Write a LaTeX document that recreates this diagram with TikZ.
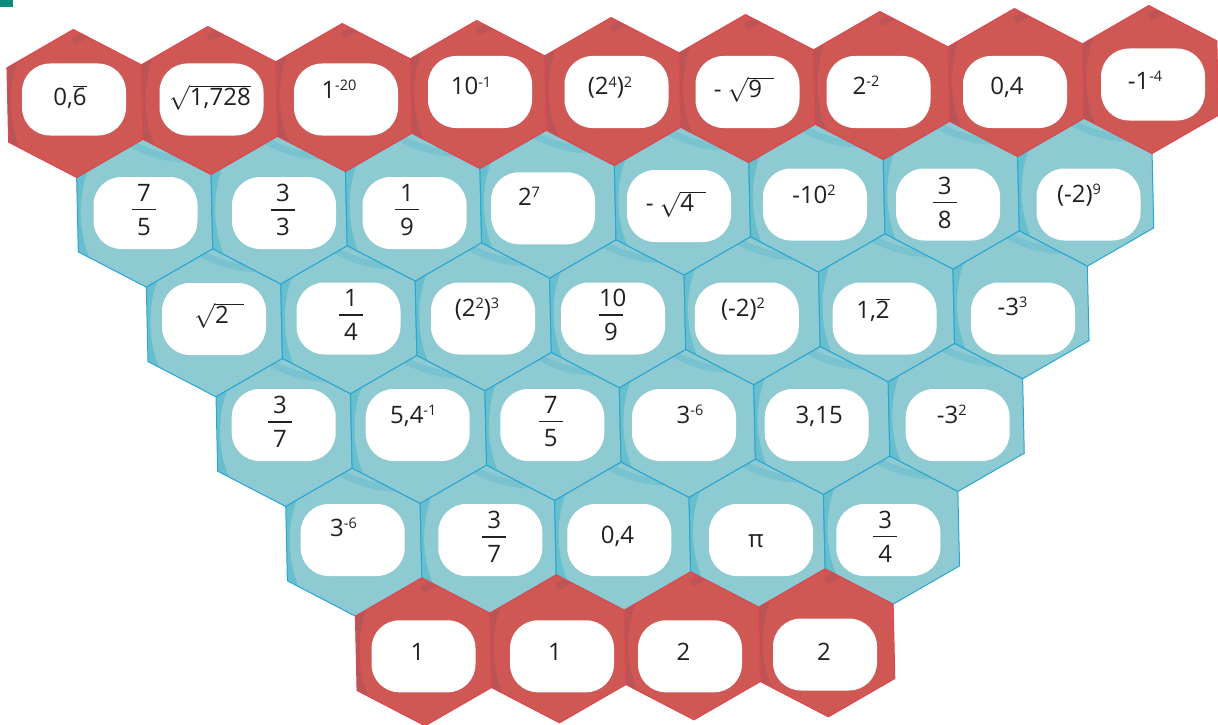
\documentclass[tikz,border=0pt]{standalone}
\usepackage{fontspec}
\setmainfont{Open Sans}
\usetikzlibrary{calc}
\definecolor{redbase}{HTML}{CF5854}
\definecolor{reddark}{HTML}{BA5457}
\definecolor{redline}{HTML}{E0474D}
\definecolor{tealbase}{HTML}{8DCAD1}
\definecolor{tealdark}{HTML}{67BFCE}
\definecolor{tealline}{HTML}{2AA6D2}
\definecolor{cornermark}{HTML}{0B8C7C}
\definecolor{textcol}{HTML}{231F20}
\newcommand\hexpath{(0,-74) -- (67.235,-37.2) -- (67.235,37.2) -- (0,74) -- (-67.235,37.2) -- (-67.235,-37.2) -- cycle}
\newcommand\tealcell[2]{%
  \begin{scope}[shift={(#1,#2)}]
    \begin{scope}
      \clip \hexpath;
      \fill[tealdark] \hexpath;
      \fill[tealbase] (10,0) ellipse[x radius=74, y radius=96];
      \draw[tealdark, line width=7pt, opacity=.55] (-25,-78) .. controls (0,-60) and (30,-50) .. (60,-54);
    \end{scope}
    \draw[tealline, line width=1pt, line join=round] \hexpath;
  \end{scope}}
\newcommand\redcell[2]{%
  \begin{scope}[shift={(#1,#2)}]
    \begin{scope}
      \clip \hexpath;
      \fill[reddark] \hexpath;
      \fill[redbase] (10,0) ellipse[x radius=74, y radius=96];
      \draw[reddark, line width=7pt, opacity=.8] (0,-62) .. controls (15,-70) and (30,-76) .. (45,-80);
    \end{scope}
    \draw[redline, line width=1pt, line join=round] \hexpath;
  \end{scope}}
\newcommand\sups[1]{\raisebox{8pt}{\fontsize{14.5}{14.5}\selectfont #1}}
\newcommand\fr[2]{\vbox{\hbox to 24pt{\hfil#1\hfil}\kern7.5pt\hrule height 1.2pt\kern7.5pt\hbox to 24pt{\hfil#2\hfil}}}
\newcommand\rad[1]{$\sqrt{\hbox{#1}\rule[-5pt]{0pt}{21pt}}$}
\tikzset{
  wbox/.style={fill=white, draw=none, rounded corners=28pt, minimum width=104pt, minimum height=72pt, inner sep=0pt},
  txt/.style={inner sep=0pt, text=textcol, font=\fontsize{24}{28}\selectfont},
  bl/.style={txt, anchor=base},
  fc/.style={txt, anchor=center}
}
\begin{document}
\begin{tikzpicture}[x=1pt,y=-1pt]
\useasboundingbox (0,0) rectangle (1218,725);
\fill[cornermark] (0,0) rectangle (12.5,7);
\begin{scope}[shift={(75,103.5)}, rotate=1.278]
  \foreach \r/\n in {1/7,2/6,3/5,4/4}{
    \foreach \k in {0,...,\n}{
      \pgfmathsetmacro\cx{67.235*\r+134.47*\k}
      \pgfmathsetmacro\cy{111.2*\r}
      \tealcell{\cx}{\cy}
    }
  }
  \foreach \k in {0,...,8}{
    \pgfmathsetmacro\cx{134.47*\k}
    \redcell{\cx}{0}
  }
  \foreach \k in {0,...,3}{
    \pgfmathsetmacro\cx{336.175+134.47*\k}
    \redcell{\cx}{556}
  }
\end{scope}
% row 1
\node[wbox] (b11) at (74,99.5) {};
\node[bl] (t11) at (70,105) {0,$\overline{\hbox{6}}$};
\node[wbox] (b12) at (211.5,99.5) {};
\node[bl] (t12) at (210,105) {\rad{1,728}};
\node[wbox] (b13) at (346,99.5) {};
\node[bl] (t13) at (339,99) {1\sups{-20}};
\node[wbox] (b14) at (480,92) {};
\node[bl] (t14) at (471,95) {10\sups{-1}};
\node[wbox] (b15) at (616.5,92) {};
\node[bl] (t15) at (610,95) {(2\sups{4})\sups{2}};
\node[wbox] (b16) at (747.5,92) {};
\node[bl] (t16) at (744,97) {-\hspace{6pt}\rad{9\hspace{12pt}}};
\node[wbox] (b17) at (878.5,92) {};
\node[bl] (t17) at (866,94) {2\sups{-2}};
\node[wbox] (b18) at (1015,92) {};
\node[bl] (t18) at (1007,95) {0,4};
\node[wbox] (b19) at (1153,84.5) {};
\node[bl] (t19) at (1145,89) {-1\sups{-4}};
% row 2
\node[wbox] (b21) at (145.5,213) {};
\node[fc] (t21) at (144,210) {\fr{7}{5}};
\node[wbox] (b22) at (284,213) {};
\node[fc] (t22) at (283,210) {\fr{3}{3}};
\node[wbox] (b23) at (414.6,213) {};
\node[fc] (t23) at (407,210) {\fr{1}{9}};
\node[wbox] (b24) at (543,208.3) {};
\node[bl] (t24) at (529,205) {2\sups{7}};
\node[wbox] (b25) at (679,206) {};
\node[bl] (t25) at (676,211.7) {-\hspace{6pt}\rad{4\hspace{12pt}}};
\node[wbox] (b26) at (815,204.5) {};
\node[bl] (t26) at (814,203.3) {-10\sups{2}};
\node[wbox] (b27) at (948,204.5) {};
\node[fc] (t27) at (944.6,202.7) {\fr{3}{8}};
\node[wbox] (b28) at (1088.5,204.5) {};
\node[bl] (t28) at (1079,202) {(-2)\sups{9}};
% row 3
\node[wbox] (b31) at (214,319) {};
\node[bl] (t31) at (219,323) {\rad{2\hspace{15pt}}};
\node[wbox] (b32) at (348.5,318.5) {};
\node[fc] (t32) at (351,315) {\fr{1}{4}};
\node[wbox] (b33) at (483,318.5) {};
\node[bl] (t33) at (477,316) {(2\sups{2})\sups{3}};
\node[wbox] (b34) at (613,318.5) {};
\node[fc] (t34) at (611,315) {\fr{10}{9}};
\node[wbox] (b35) at (746.8,318.5) {};
\node[bl] (t35) at (743,316) {(-2)\sups{2}};
\node[wbox] (b36) at (884.6,318.5) {};
\node[bl] (t36) at (873,318) {1,$\overline{\hbox{2}}$};
\node[wbox] (b37) at (1023,318.5) {};
\node[bl] (t37) at (1012.5,315.7) {-3\sups{3}};
% row 4
\node[wbox] (b41) at (283.7,425) {};
\node[fc] (t41) at (280,421.7) {\fr{3}{7}};
\node[wbox] (b42) at (417.7,425) {};
\node[bl] (t42) at (413.3,423.3) {5,4\sups{-1}};
\node[wbox] (b43) at (552.3,425) {};
\node[fc] (t43) at (550.8,421.7) {\fr{7}{5}};
\node[wbox] (b44) at (684,425) {};
\node[bl] (t44) at (690,423.3) {3\sups{-6}};
\node[wbox] (b45) at (816.7,425) {};
\node[bl] (t45) at (819.2,423.3) {3,15};
\node[wbox] (b46) at (957.7,425) {};
\node[bl] (t46) at (951.7,423.3) {-3\sups{2}};
% row 5
\node[wbox] (b51) at (352.7,540) {};
\node[bl] (t51) at (343.5,536.7) {3\sups{-6}};
\node[wbox] (b52) at (490.3,540) {};
\node[fc] (t52) at (494.3,536.7) {\fr{3}{7}};
\node[wbox] (b53) at (619.3,540) {};
\node[bl] (t53) at (617.5,543.3) {0,4};
\node[wbox] (b54) at (761,540) {};
\node[bl] (t54) at (756,547.3) {π};
\node[wbox] (b55) at (888.3,540) {};
\node[fc] (t55) at (885.3,536.7) {\fr{3}{4}};
% row 6
\node[wbox] (b61) at (423.5,656.3) {};
\node[bl] (t61) at (417.5,660) {1};
\node[wbox] (b62) at (562,656.3) {};
\node[bl] (t62) at (555,660) {1};
\node[wbox] (b63) at (690,656.3) {};
\node[bl] (t63) at (683.5,660) {2};
\node[wbox] (b64) at (825,654.5) {};
\node[bl] (t64) at (824,660) {2};
\end{tikzpicture}
\end{document}
